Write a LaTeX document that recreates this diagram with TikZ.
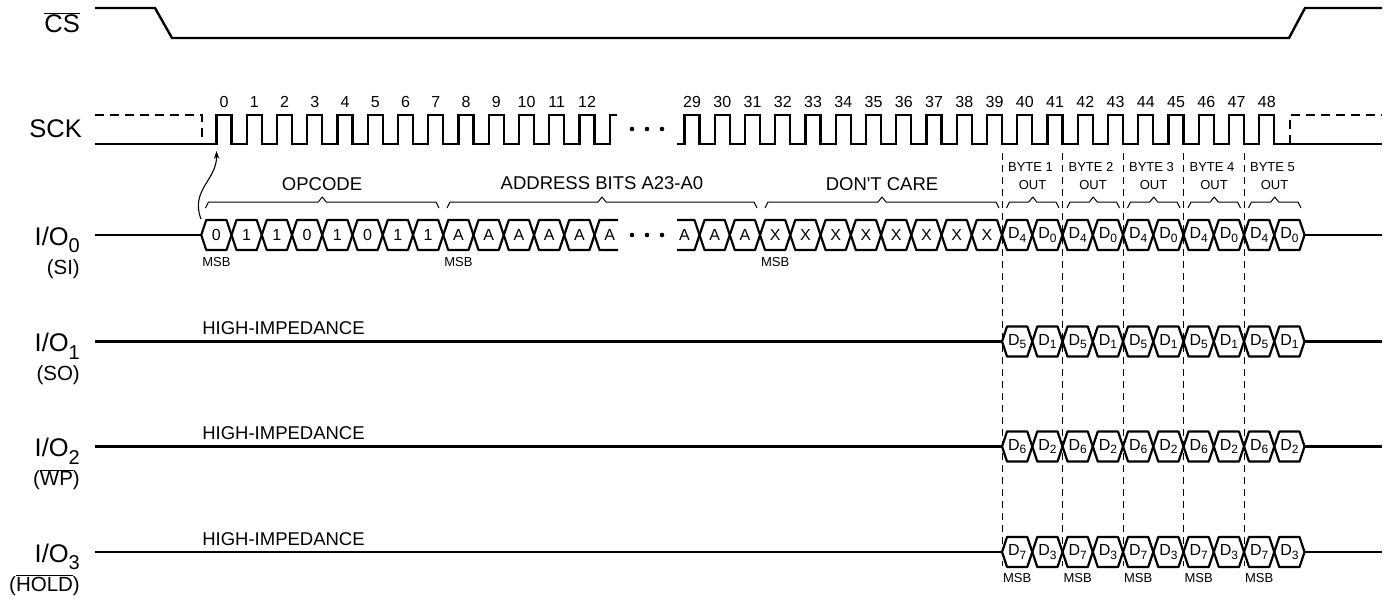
\documentclass[tikz,border=0pt]{standalone}
\usepackage{fontspec}
\setmainfont{Liberation Sans}
\usetikzlibrary{arrows.meta}
\newcommand\hcell[4]{%
  \draw[hexs] (#1,#2) -- ++(5,-15) -- ++(20.25,0) -- ++(5,15) -- ++(-5,15) -- ++(-20.25,0) -- cycle;
  \node[cell] (#3) at ({#1+15.125},#2) {#4};}
\newcommand\Dd[1]{D\raisebox{-0.22em}{\fontsize{12}{12}\selectfont #1}}
\newcommand\iosub[1]{\raisebox{-0.3em}{\fontsize{20}{20}\selectfont #1}}
\newcommand\tbrace[3]{%
  \draw[brc] (#1,208) -- ++(3,-6) -- ({(#1+#2)/2-4},202) -- ({(#1+#2)/2},197) -- ({(#1+#2)/2+4},202) -- ({#2-3},202) -- (#2,208);
  \coordinate (#3) at ({(#1+#2)/2},197);}
\begin{document}
\begin{tikzpicture}[x=1pt,y=-1pt,
  sig/.style={line width=2.4pt, line join=miter, line cap=butt},
  sigd/.style={sig, dash pattern=on 9pt off 6pt},
  hexs/.style={line width=2.2pt, line join=round},
  vdash/.style={line width=1pt, dash pattern=on 7pt off 5pt},
  brc/.style={line width=1pt, line join=round},
  big/.style={anchor=base east, inner sep=0pt, font=\fontsize{25.5}{29}\selectfont},
  plab/.style={anchor=base east, inner sep=0pt, font=\fontsize{20.5}{24}\selectfont},
  mid/.style={inner sep=0pt, font=\fontsize{18.5}{22}\selectfont},
  num/.style={inner sep=0pt, font=\fontsize{16}{19}\selectfont},
  cell/.style={inner sep=0pt, font=\fontsize{16}{19}\selectfont},
  small/.style={inner sep=0pt, font=\fontsize{13}{15}\selectfont},
  arr/.style={line width=1.1pt, -{Stealth[length=8pt,width=5.5pt]}}
]
\useasboundingbox (0,0) rectangle (1387,598);

% ---- CS ----
\node[big] (cs) at (80,32) {$\overline{\mbox{CS}}$};
\draw[sig] (95,8) -- (155,8) -- (172,38) -- (1289,38) -- (1305,8) -- (1382,8);

% ---- SCK ----
\node[big] (sck) at (82,137) {SCK};
\draw[sigd] (95,115) -- (202,115) -- (202,144);
\draw[sig] (95,144) -- (216.5,144)
  \foreach \i in {0,...,12}{ -- ({216.5+30.25*\i},115) -- ({231.5+30.25*\i},115) -- ({231.5+30.25*\i},144) -- ({246.75+30.25*\i},144)}
  -- (609.75,115) -- (617,115);
\draw[sig] (677,144)
  \foreach \i in {0,...,19}{ -- ({684.5+30.25*\i},144) -- ({684.5+30.25*\i},115) -- ({699.5+30.25*\i},115) -- ({699.5+30.25*\i},144)}
  -- (1382,144);
\draw[sigd] (1290,144) -- (1290,115) -- (1382,115);
\foreach \i in {0,...,12} \node[num] (n\i) at ({224+30.25*\i},102) {\i};
\foreach \i in {29,...,48} \node[num] (n\i) at ({692+30.25*(\i-29)},102) {\i};
\foreach \x in {632,647,662} {\fill (\x,129) circle (2.3); \fill (\x,235) circle (2.3);}

% ---- dashed byte separators ----
\foreach \k in {0,...,4} \draw[vdash] ({1002+60.5*\k},153) -- ({1002+60.5*\k},566);

% ---- braces and group labels ----
\tbrace{205.5}{439}{bOp}
\tbrace{447}{757}{bAd}
\tbrace{765}{999}{bDc}
\node[mid] (tOp) at (322,184.5) {OPCODE};
\node[mid] (tAd) at (602,183.5) {ADDRESS BITS A23-A0};
\node[mid] (tDc) at (882,184) {DON\textquotesingle T CARE};
\foreach \k [evaluate=\k as \j using int(\k+1)] in {0,...,4} {
  \tbrace{1006.5+60.5*\k}{1059+60.5*\k}{bB\k}
  \node[small] (by\k) at ({1030.5+60.5*\k},167) {BYTE \j};
  \node[small] (ou\k) at ({1032.5+60.5*\k},185) {OUT};
}

% ---- I/O0 ----
\node[big] (io0) at (80,245) {I/O\iosub{0}};
\node[plab] (si) at (80,274) {(SI)};
\draw[sig] (95,235) -- (201.25,235);
\foreach \b [count=\k from 0] in {0,1,1,0,1,0,1,1} {
  \pgfmathsetmacro\xs{201.25+30.25*\k}
  \hcell{\xs}{235}{op\k}{\b}
}
\foreach \k in {0,...,4} {
  \pgfmathsetmacro\xs{443.25+30.25*\k}
  \hcell{\xs}{235}{ad\k}{A}
}
\draw[hexs] (618,220) -- (599.5,220) -- (594.5,235) -- (599.5,250) -- (618,250);
\node[cell] (ad5) at (609.6,235) {A};
\draw[hexs] (677,220) -- (694.5,220) -- (699.5,235) -- (694.5,250) -- (677,250);
\node[cell] (ad6) at (684.4,235) {A};
\foreach \k in {0,1} {
  \pgfmathsetmacro\xs{699.5+30.25*\k}
  \hcell{\xs}{235}{ae\k}{A}
}
\foreach \k in {0,...,7} {
  \pgfmathsetmacro\xs{760+30.25*\k}
  \hcell{\xs}{235}{dc\k}{X}
}
\foreach \k in {0,...,4} {
  \pgfmathsetmacro\xs{1002+60.5*\k}
  \hcell{\xs}{235}{oa\k}{\Dd{4}}
  \pgfmathsetmacro\xs{1032.25+60.5*\k}
  \hcell{\xs}{235}{ob\k}{\Dd{0}}
}
\draw[sig] (1304.5,235) -- (1382,235);
\node[small] (m1) at (216.4,262) {MSB};
\node[small] (m2) at (458.4,262) {MSB};
\node[small] (m3) at (775.1,262) {MSB};
\coordinate (bit0) at (201,219);
\coordinate (edge0) at (216.5,151);
\draw[arr] (bit0) .. controls (190,190) and (217,180) .. (edge0);

% ---- I/O1..3 ----
\foreach \r/\y/\hi/\lo/\pl in {1/341.5/5/1/(SO), 2/446.5/6/2/($\overline{\mbox{WP}}$), 3/552/7/3/($\overline{\mbox{HOLD}}$)} {
  \node[big] (io\r) at (80,\y+10) {I/O\iosub{\r}};
  \node[plab] (pl\r) at (80,\y+39) {\pl};
  \node[mid] (hz\r) at (283.5,\y-13) {HIGH-IMPEDANCE};
  \draw[sig] (95,\y) -- (1002,\y);
  \foreach \k in {0,...,4} {
    \pgfmathsetmacro\xs{1002+60.5*\k}
    \hcell{\xs}{\y}{r\r a\k}{\Dd{\hi}}
    \pgfmathsetmacro\xs{1032.25+60.5*\k}
    \hcell{\xs}{\y}{r\r b\k}{\Dd{\lo}}
  }
  \draw[sig] (1304.5,\y) -- (1382,\y);
}
\foreach \k in {0,...,4} \node[small] (mm\k) at ({1017.1+60.5*\k},578) {MSB};
\end{tikzpicture}
\end{document}
